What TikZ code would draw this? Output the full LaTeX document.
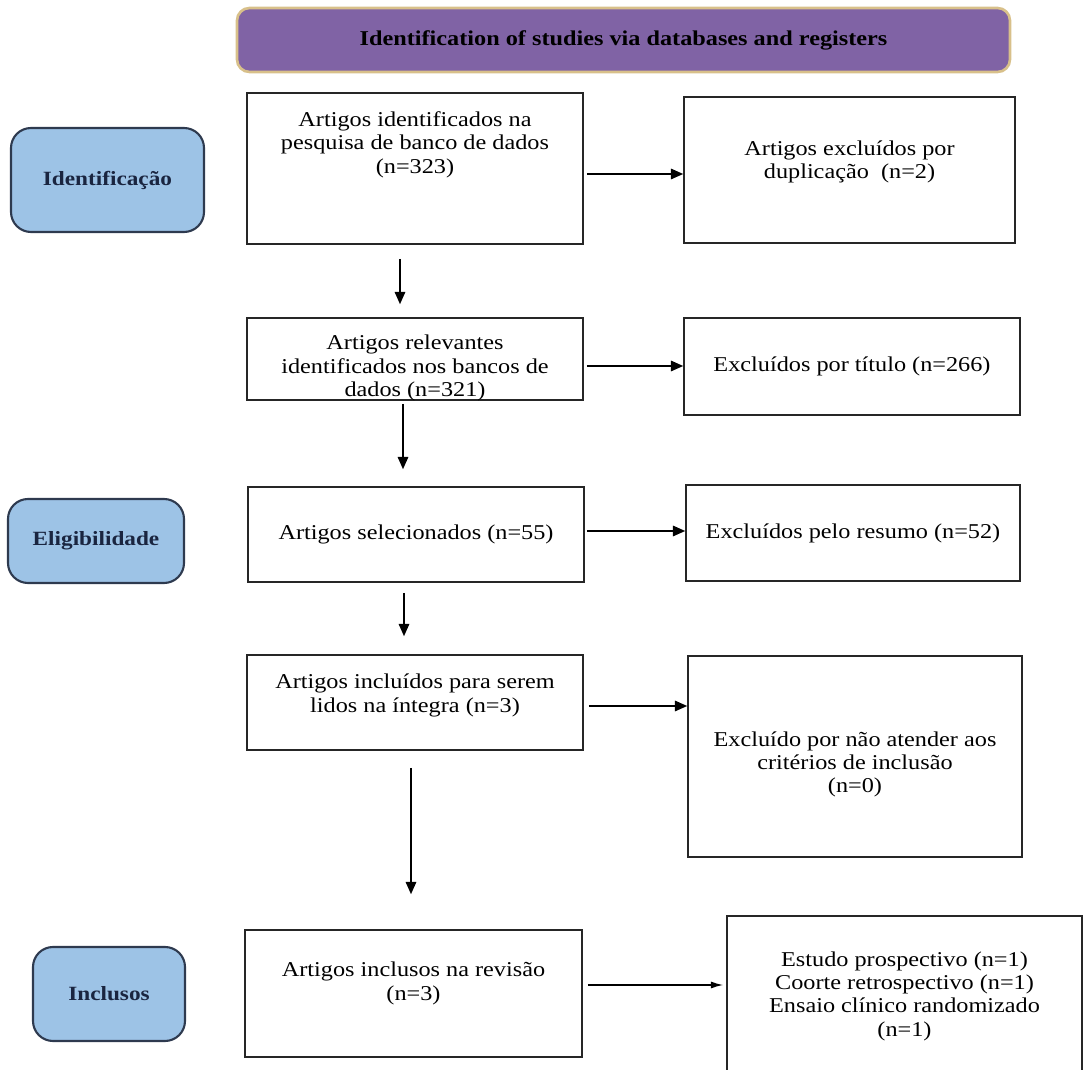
\documentclass[tikz,border=0pt]{standalone}
\usepackage{fontspec}
\setmainfont[FakeStretch=1.15]{Liberation Serif}
\usetikzlibrary{arrows.meta}
\definecolor{headpurple}{HTML}{8063A5}
\definecolor{headgold}{HTML}{D8C08A}
\definecolor{stageblue}{HTML}{9DC3E6}
\definecolor{stageline}{HTML}{2E3A4F}
\definecolor{stagetext}{HTML}{1A2540}
\newcommand{\flowfont}{\fontsize{12}{13.3}\selectfont}
\tikzset{
  stage/.style={draw=stageline, line width=1.2pt, fill=stageblue, rounded corners=0.4cm,
    text=stagetext, font=\fontsize{11.5}{13}\selectfont\bfseries},
  box/.style={draw=black!85, line width=0.9pt, align=center, inner sep=0.1cm, font=\flowfont},
  arr/.style={line width=0.8pt, -{Triangle[length=7pt,width=6pt]}},
}
\begin{document}
\begin{tikzpicture}
            \useasboundingbox (0,0) rectangle (21.78,-21.40);
            % Nodes
            \node[draw=headgold, line width=1.5pt, fill=headpurple, rounded corners=0.25cm,
              minimum width=15.46cm, minimum height=1.28cm, font=\flowfont\bfseries] (Cabecalho) at (12.47,-0.80) {Identification of studies via databases and registers};

            \node[stage, minimum width=3.86cm, minimum height=2.08cm] (Identificacao) at (2.15,-3.60) {Identificação};
            \node[stage, minimum width=3.52cm, minimum height=1.68cm] (Eligibilidade) at (1.92,-10.82) {Eligibilidade};
            \node[stage, minimum width=3.04cm, minimum height=1.88cm] (Inclusos) at (2.18,-19.88) {Inclusos};

            \node[box, minimum width=6.72cm, minimum height=3.02cm, text depth=1.04cm] (Identificados) at (8.30,-3.37) {Artigos identificados na\\pesquisa de banco de dados\\(n=323)};
            \node[box, minimum width=6.72cm, minimum height=1.64cm, inner ysep=0.05cm, text height=1.5cm, text depth=0cm] (Relevantes) at (8.30,-7.18) {Artigos relevantes\\identificados nos bancos de\\dados (n=321)};
            \node[box, minimum width=6.72cm, minimum height=1.90cm] (Selecionados) at (8.32,-10.69) {Artigos selecionados (n=55)};
            \node[box, minimum width=6.72cm, minimum height=1.90cm, text depth=0.38cm] (Integra) at (8.30,-14.05) {Artigos incluídos para serem\\lidos na íntegra (n=3)};
            \node[box, minimum width=6.74cm, minimum height=2.54cm, text depth=0.5cm] (Revisao) at (8.27,-19.87) {Artigos inclusos na revisão\\(n=3)};

            \node[box, minimum width=6.62cm, minimum height=2.92cm, text depth=0.42cm] (Duplicacao) at (16.99,-3.40) {Artigos excluídos por\\duplicação\ \ (n=2)};
            \node[box, minimum width=6.72cm, minimum height=1.94cm] (Titulo) at (17.04,-7.33) {Excluídos por título (n=266)};
            \node[box, minimum width=6.68cm, minimum height=1.92cm] (Resumo) at (17.06,-10.66) {Excluídos pelo resumo (n=52)};
            \node[box, minimum width=6.68cm, minimum height=4.02cm, text height=1.46cm, text depth=0cm] (Criterios) at (17.10,-15.13) {Excluído por não atender aos\\critérios de inclusão\\(n=0)};
            \node[box, minimum width=7.10cm, minimum height=3.20cm] (Tipos) at (18.09,-19.92) {Estudo prospectivo (n=1)\\Coorte retrospectivo (n=1)\\Ensaio clínico randomizado\\(n=1)};

            % Arrows
            \draw[arr, shorten <=0.28cm, shorten >=0.26cm] ([xshift=-0.30cm]Identificados.south) -- ([xshift=-0.30cm]Identificados.south |- Relevantes.north);
            \draw[arr, shorten <=0.06cm, shorten >=0.34cm] ([xshift=-0.24cm]Relevantes.south) -- ([xshift=-0.24cm]Relevantes.south |- Selecionados.north);
            \draw[arr, shorten <=0.20cm, shorten >=0.36cm] ([xshift=-0.24cm]Selecionados.south) -- ([xshift=-0.24cm]Selecionados.south |- Integra.north);
            \draw[arr, shorten <=0.34cm, shorten >=0.70cm] ([xshift=-0.08cm]Integra.south) -- ([xshift=-0.08cm]Integra.south |- Revisao.north);

            \draw[arr, shorten <=0.06cm] ([yshift=-0.11cm]Identificados.east) -- ([yshift=-0.11cm]Identificados.east -| Duplicacao.west);
            \draw[arr, shorten <=0.06cm] ([yshift=-0.14cm]Relevantes.east) -- ([yshift=-0.14cm]Relevantes.east -| Titulo.west);
            \draw[arr, shorten <=0.04cm] ([yshift=0.07cm]Selecionados.east) -- ([yshift=0.07cm]Selecionados.east -| Resumo.west);
            \draw[arr, shorten <=0.10cm] ([yshift=-0.07cm]Integra.east) -- ([yshift=-0.07cm]Integra.east -| Criterios.west);
            \draw[line width=0.8pt, -{Latex[length=7pt,width=4pt]}, shorten <=0.10cm, shorten >=0.06cm] ([yshift=0.17cm]Revisao.east) -- ([yshift=0.17cm]Revisao.east -| Tipos.west);
        \end{tikzpicture}
\end{document}
